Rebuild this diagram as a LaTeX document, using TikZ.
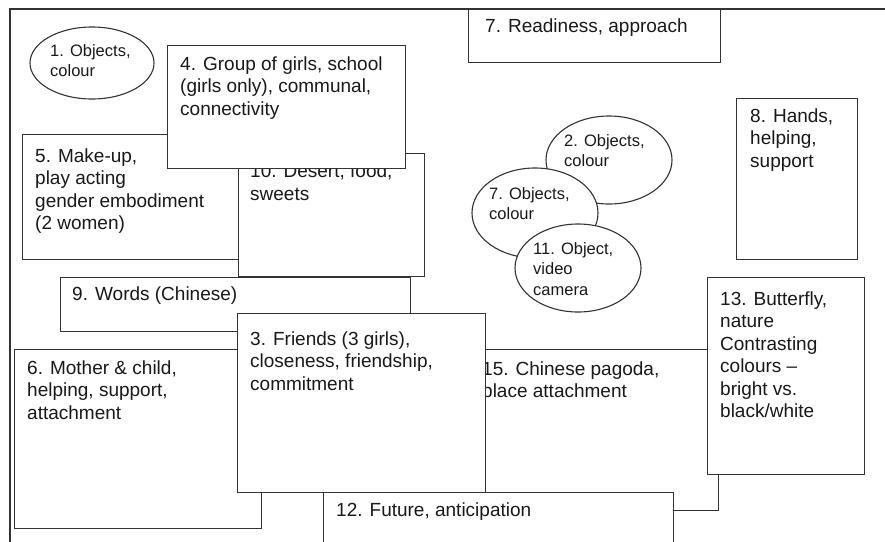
\documentclass[tikz,border=0pt]{standalone}
\usepackage{fontspec}
\setmainfont{Liberation Sans}
\usetikzlibrary{shapes.geometric}
\definecolor{ink}{HTML}{333333}

\begin{document}
\begin{tikzpicture}[x=1pt, y=-1pt,
    card/.style = {draw=ink, line width=1.2pt, fill=white, anchor=north west, inner sep=0pt},
    blob/.style = {ellipse, draw=ink, line width=1.1pt, fill=white, inner sep=0pt},
    txt/.style = {anchor=north west, align=left, inner sep=0pt, text=black!90,
                  font=\fontsize{19}{22.5}\selectfont},
    small/.style = {txt, font=\fontsize{16.5}{20.5}\selectfont}]
\useasboundingbox (0,0) rectangle (885,541);
\clip (0,0) rectangle (885,541);
\draw[ink, line width=1.2pt] (10,560) |- (900,9);

\node[card, minimum width=252pt, minimum height=53pt] (b7) at (468,9) {};
\node[txt] (t7) at ([shift={(17,7.25)}]b7.north west) {\strut 7. Readiness, approach};

\node[card, minimum width=278pt, minimum height=125pt] (b5) at (22,134) {};
\node[txt] (t5) at ([shift={(13,12.25)}]b5.north west)
   {\strut 5. Make-up,\\ play acting\\ gender embodiment\\ (2 women)};

\node[card, minimum width=186pt, minimum height=123pt] (b10) at (238,153) {};
\node[txt] (t10) at ([shift={(12,8.75)}]b10.north west) {\strut 10. Desert, food,\\ sweets};

\node[card, minimum width=238pt, minimum height=123pt] (b4) at (167,45) {};
\node[txt] (t4) at ([shift={(13,9.25)}]b4.north west)
   {\strut 4. Group of girls, school\\ (girls only), communal,\\ connectivity};

\node[card, minimum width=350pt, minimum height=54pt] (b9) at (60,277) {};
\node[txt] (t9) at ([shift={(12,7.25)}]b9.north west) {\strut 9. Words (Chinese)};

\node[card, minimum width=247pt, minimum height=179pt] (b6) at (14,349) {};
\node[txt] (t6) at ([shift={(13,9.25)}]b6.north west)
   {\strut 6. Mother \& child,\\ helping, support,\\ attachment};

\node[card, minimum width=248pt, minimum height=161pt] (b15) at (470,349) {};
\node[txt] (t15) at ([shift={(12,10.25)}]b15.north west)
   {\strut 15. Chinese pagoda,\\ place attachment};

\node[card, minimum width=248pt, minimum height=179pt] (b3) at (237,313) {};
\node[txt] (t3) at ([shift={(13,16.25)}]b3.north west)
   {\strut 3. Friends (3 girls),\\ closeness, friendship,\\ commitment};

\node[card, minimum width=350pt, minimum height=70pt] (b12) at (323,492) {};
\node[txt] (t12) at ([shift={(13,8.25)}]b12.north west) {\strut 12. Future, anticipation};

\node[card, minimum width=157pt, minimum height=197pt] (b13) at (707,277) {};
\node[txt] (t13) at ([shift={(13,12.25)}]b13.north west)
   {\strut 13. Butterfly,\\ nature\\ Contrasting\\ colours –\\ bright vs.\\ black/white};

\node[card, minimum width=121pt, minimum height=161pt] (b8) at (736,98) {};
\node[txt] (t8) at ([shift={(14,8.25)}]b8.north west) {\strut 8. Hands,\\ helping,\\ support};

% objects
\node[blob, minimum width=124pt, minimum height=72pt] (e1) at (92,63) {};
\node[small] (s1) at ([shift={(-42,-21.5)}]e1.center) {\strut 1. Objects,\\ colour};
\node[blob, minimum width=126pt, minimum height=88pt] (e2) at (609,160) {};
\node[small] (s2) at ([shift={(-45,-28.5)}]e2.center) {\strut 2. Objects,\\ colour};
\node[blob, minimum width=126pt, minimum height=90pt] (e7) at (535,213) {};
\node[small] (s7) at ([shift={(-46,-28.5)}]e7.center) {\strut 7. Objects,\\ colour};
\node[blob, minimum width=126pt, minimum height=88pt] (e11) at (578,268) {};
\node[small] (s11) at ([shift={(-45,-28.5)}]e11.center) {\strut 11. Object,\\ video\\ camera};
\end{tikzpicture}
\end{document}
